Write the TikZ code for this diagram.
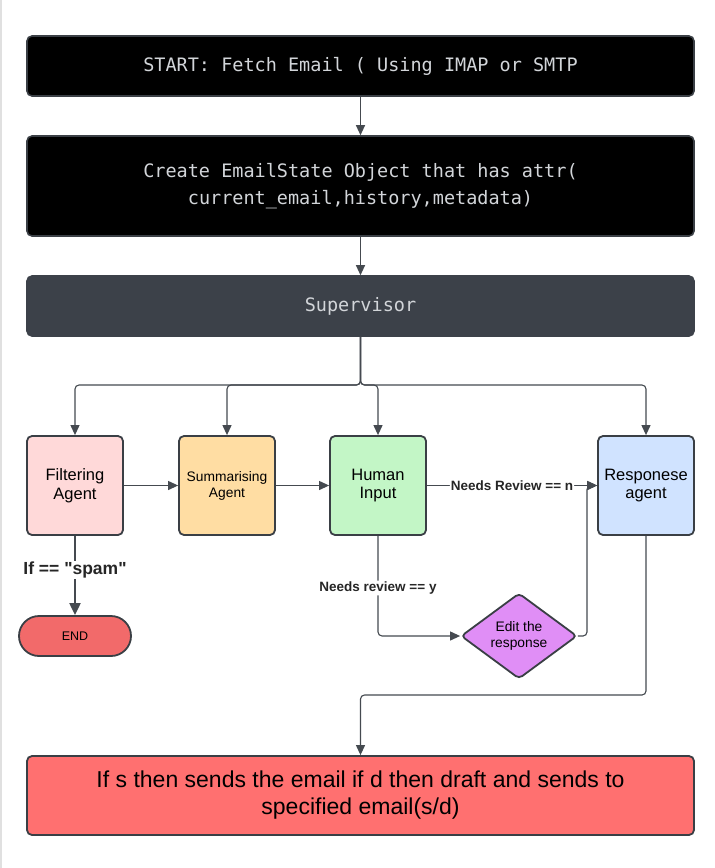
\documentclass[tikz,border=0pt]{standalone}
\usepackage{fontspec}
\setmainfont{Liberation Sans}[Ligatures=TeXOff]
\newfontfamily\monof{DejaVu Sans Mono}
\usetikzlibrary{arrows.meta,shapes.geometric,shapes.misc,calc}
\definecolor{bordc}{HTML}{3A3F45}
\definecolor{linec}{HTML}{454A50}
\definecolor{supc}{HTML}{3C4149}
\definecolor{suptxt}{HTML}{D2D5D9}
\definecolor{pinkc}{HTML}{FFD9D9}
\definecolor{orangec}{HTML}{FFDDA3}
\definecolor{greenc}{HTML}{C3F6C6}
\definecolor{bluec}{HTML}{D0E3FF}
\definecolor{purplec}{HTML}{E08EF6}
\definecolor{redc}{HTML}{FF7070}
\tikzset{
  darkbox/.style={draw=bordc, line width=1.6pt, fill=black, rounded corners=5pt,
    minimum width=667pt, text=suptxt, font=\monof\fontsize{18.5}{27}\selectfont, align=center, inner sep=0pt},
  agent/.style={draw=bordc, line width=1.8pt, rounded corners=5pt, minimum width=96pt,
    minimum height=99pt, align=center, inner sep=0pt, font=\fontsize{16.5}{18.5}\selectfont},
  conn/.style={draw=linec, line width=1.1pt, rounded corners=4pt, -{Triangle[length=10pt,width=9pt]}},
  lbl/.style={fill=white, inner sep=1pt, font=\bfseries\fontsize{13.5}{15}\selectfont, text=black!85},
}
\begin{document}
\begin{tikzpicture}[x=1pt,y=-1pt]
\useasboundingbox (0,0) rectangle (715,868);
\fill[white] (0,0) rectangle (715,868);
\draw[black!12, line width=1.5pt] (1,0) -- (1,868);

\node[darkbox, minimum height=60pt] (start) at (360.5,66) {START: Fetch Email ( Using IMAP or SMTP};
\node[darkbox, minimum height=100pt] (create) at (360.5,186) {Create EmailState Object that has attr(\\current\_email,history,metadata)};
\node[darkbox, fill=supc, draw=supc, minimum height=60pt] (sup) at (360.5,306) {Supervisor};

\node[agent, fill=pinkc] (filter) at (75,485.5) {Filtering\\Agent};
\node[agent, fill=orangec, font=\fontsize{13.8}{16}\selectfont] (summ) at (227,485.5) {Summarising\\Agent};
\node[agent, fill=greenc] (human) at (378,485.5) {Human\\Input};
\node[agent, fill=bluec] (resp) at (646,485.5) {Responese\\agent};

\node[diamond, draw=bordc, line width=1.8pt, fill=purplec, minimum width=116pt, minimum height=76pt,
  inner sep=0pt, align=center, rounded corners=4pt, font=\fontsize{13.8}{16}\selectfont] (edit) at (519,636) {Edit the\\response};

\node[draw=bordc, line width=1.8pt, fill=redc!95!black, rounded rectangle, minimum width=112pt,
  minimum height=40pt, inner sep=0pt, font=\fontsize{12.5}{14}\selectfont] (end) at (75,636) {END};

\node[draw=bordc, line width=1.8pt, fill=redc, rounded corners=5pt, minimum width=667pt, minimum height=79pt,
  align=center, inner sep=0pt, font=\fontsize{23}{27}\selectfont] (final) at (360.5,795.5)
  {If s then sends the email if d then draft and sends to\\specified email(s/d)};

% connectors
\draw[conn] (start.south) -- (create.north);
\draw[conn] (create.south) -- (sup.north);
\coordinate (br) at (360.5,385);
\draw[conn] (sup.south) -- (br) -| (filter.north);
\draw[conn] (sup.south) -- (br) -| (summ.north);
\draw[conn] (sup.south) -- (br) -| (human.north);
\draw[conn] (sup.south) -- (br) -| (resp.north);

\draw[conn] (filter.east) -- (summ.west);
\draw[conn] (summ.east) -- (human.west);
\draw[conn] (human.east) -- node[lbl] {Needs Review == n} (resp.west);
\coordinate (merge) at (587,485.5);
\draw[conn] (edit.east) -| (merge) -- (resp.west);
\draw[conn] (human.south) |- node[lbl, pos=0.26] {Needs review == y} (edit.west);

\draw[draw=linec, line width=2pt, -{Triangle[length=12pt,width=11pt]}] (filter.south) --
  node[fill=white, inner sep=1pt, font=\bfseries\fontsize{17.5}{19}\selectfont, text=black!85, pos=0.43] {If == "spam"} (end.north);

\coordinate (rb) at (646,695);
\draw[conn] (resp.south) -- (rb) -| (final.north);
\end{tikzpicture}
\end{document}
